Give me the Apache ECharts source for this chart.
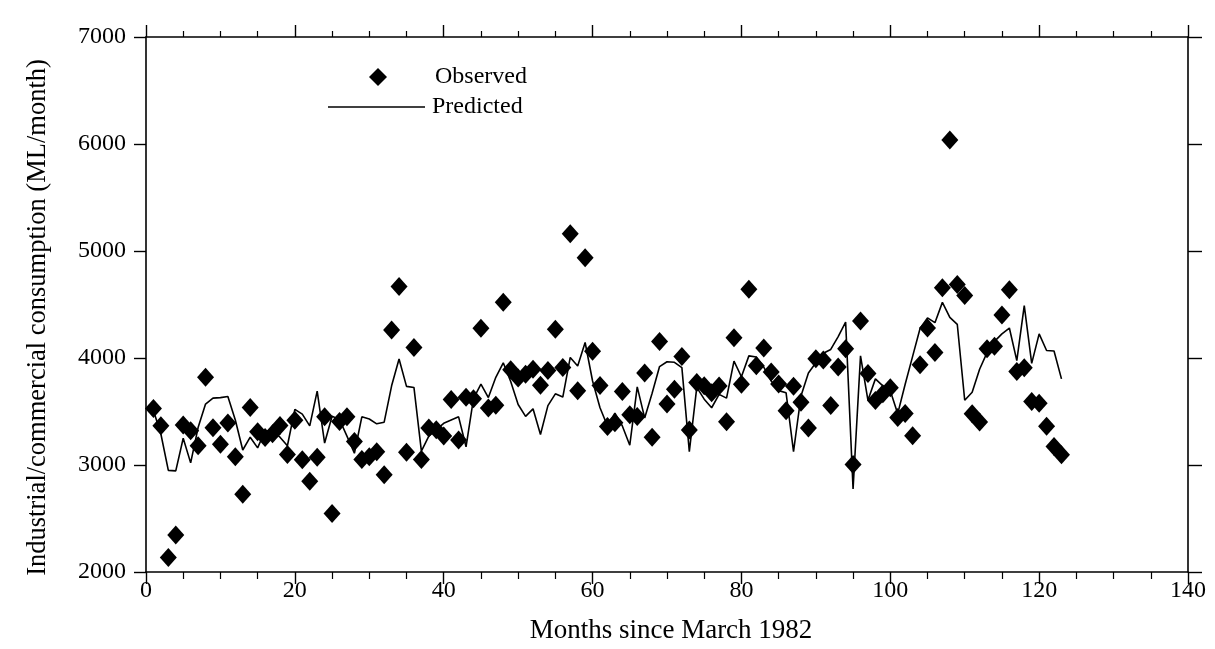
<!DOCTYPE html>
<html>
<head>
<meta charset="utf-8">
<title>Industrial/commercial consumption</title>
<script src="https://cdn.jsdelivr.net/npm/echarts@6/dist/echarts.min.js"></script>
<style>
  html, body { margin: 0; padding: 0; background: #ffffff; }
  #chart { width: 1215px; height: 649px; }
</style>
</head>
<body>
<div id="chart"></div>
<script>
// Months since March 1982
const months = [
  1, 2, 3, 4, 5, 6, 7, 8, 9, 10,
  11, 12, 13, 14, 15, 16, 17, 18, 19, 20,
  21, 22, 23, 24, 25, 26, 27, 28, 29, 30,
  31, 32, 33, 34, 35, 36, 37, 38, 39, 40,
  41, 42, 43, 44, 45, 46, 47, 48, 49, 50,
  51, 52, 53, 54, 55, 56, 57, 58, 59, 60,
  61, 62, 63, 64, 65, 66, 67, 68, 69, 70,
  71, 72, 73, 74, 75, 76, 77, 78, 79, 80,
  81, 82, 83, 84, 85, 86, 87, 88, 89, 90,
  91, 92, 93, 94, 95, 96, 97, 98, 99, 100,
  101, 102, 103, 104, 105, 106, 107, 108, 109, 110,
  111, 112, 113, 114, 115, 116, 117, 118, 119, 120,
  121, 122, 123
];

// Observed consumption (ML/month)
const observed = [
  3527, 3366, 2136, 2345, 3375, 3320, 3181, 3819, 3349, 3193,
  3393, 3077, 2726, 3537, 3310, 3257, 3293, 3369, 3099, 3419,
  3048, 2848, 3073, 3450, 2546, 3406, 3452, 3219, 3051, 3078,
  3123, 2908, 4262, 4669, 3118, 4098, 3051, 3346, 3330, 3272,
  3611, 3233, 3634, 3618, 4279, 3532, 3558, 4520, 3890, 3812,
  3848, 3895, 3746, 3884, 4269, 3912, 5161, 3694, 4937, 4062,
  3744, 3359, 3394, 3687, 3470, 3454, 3860, 3260, 4155, 3570,
  3708, 4013, 3327, 3770, 3741, 3675, 3739, 3405, 4190, 3754,
  4642, 3928, 4093, 3869, 3757, 3506, 3737, 3587, 3345, 3993,
  3982, 3556, 3916, 4086, 3005, 4346, 3856, 3603, 3667, 3721,
  3444, 3481, 3273, 3936, 4281, 4051, 4657, 6037, 4686, 4583,
  3480, 3402, 4087, 4110, 4402, 4639, 3875, 3908, 3594, 3578,
  3363, 3174, 3095
];

// Predicted consumption (ML/month)
const predicted = [
  3510, 3290, 2950, 2945, 3250, 3020, 3350, 3570, 3625, 3630,
  3640, 3420, 3140, 3260, 3160, 3320, 3320, 3260, 3180, 3520,
  3475, 3365, 3690, 3205, 3455, 3425, 3270, 3110, 3450, 3430,
  3385, 3400, 3740, 3990, 3735, 3725, 3130, 3270, 3330, 3390,
  3420, 3450, 3170, 3620, 3755, 3630, 3820, 3955, 3780, 3565,
  3455, 3525, 3285, 3555, 3665, 3635, 4005, 3925, 4145, 3785,
  3535, 3365, 3485, 3365, 3185, 3730, 3440, 3670, 3920, 3965,
  3960, 3910, 3125, 3725, 3615, 3535, 3660, 3625, 3970, 3825,
  4020, 4010, 3915, 3785, 3695, 3675, 3125, 3645, 3860, 3955,
  4045, 4080, 4200, 4335, 2775, 4020, 3605, 3805, 3740, 3695,
  3480, 3755, 4015, 4275, 4375, 4330, 4520, 4380, 4315, 3605,
  3680, 3895, 4050, 4155, 4225, 4280, 3975, 4490, 3950, 4225,
  4070, 4065, 3805
];

const serif = "'Liberation Serif', 'Times New Roman', 'DejaVu Serif', serif";
const ink = '#000000';

const observedPoints = months.map((m, i) => [m, observed[i]]);
const predictedPoints = months.map((m, i) => [m, predicted[i]]);

const chart = echarts.init(document.getElementById('chart'), null, { renderer: 'canvas' });

const axisLine = { show: true, onZero: false, lineStyle: { color: ink, width: 1.6 } };
const plainNumber = (v) => String(v);

chart.setOption({
  backgroundColor: '#ffffff',
  animation: false,
  grid: { left: 146, right: 27, top: 37, bottom: 72, containLabel: false },
  legend: [
    {
      data: [{ name: 'Observed', icon: 'diamond' }],
      left: 369, top: 65, padding: 0,
      itemWidth: 18, itemHeight: 18,
      textStyle: { fontFamily: serif, fontSize: 24, color: ink, padding: [0, 0, 0, 43] },
      selectedMode: false
    },
    {
      data: [{ name: 'Predicted', icon: 'rect' }],
      left: 328, top: 95, padding: 0,
      itemWidth: 97, itemHeight: 1.6,
      textStyle: { fontFamily: serif, fontSize: 24, color: ink, padding: [0, 0, 0, 2] },
      selectedMode: false
    }
  ],
  xAxis: [
    {
      type: 'value', position: 'bottom',
      min: 0, max: 140, interval: 20,
      axisLine: axisLine,
      axisTick: { show: true, inside: false, length: 12, lineStyle: { color: ink, width: 1.4 } },
      minorTick: { show: true, splitNumber: 4, length: 7, lineStyle: { color: ink, width: 1.2 } },
      splitLine: { show: false },
      axisLabel: { fontFamily: serif, fontSize: 24, color: ink, margin: 7, formatter: plainNumber },
      name: 'Months since March 1982',
      nameLocation: 'middle', nameGap: 45,
      nameTextStyle: { fontFamily: serif, fontSize: 27, color: ink, padding: [0, 0, 0, 8] }
    },
    {
      type: 'value', position: 'top',
      min: 0, max: 140, interval: 20,
      axisLine: axisLine,
      axisTick: { show: true, inside: false, length: 12, lineStyle: { color: ink, width: 1.4 } },
      minorTick: { show: true, splitNumber: 4, length: 6, lineStyle: { color: ink, width: 1.2 } },
      splitLine: { show: false },
      axisLabel: { show: false }
    }
  ],
  yAxis: [
    {
      type: 'value', position: 'left',
      min: 2000, max: 7000, interval: 1000,
      axisLine: axisLine,
      axisTick: { show: true, inside: false, length: 12, lineStyle: { color: ink, width: 1.4 } },
      splitLine: { show: false },
      axisLabel: { fontFamily: serif, fontSize: 24, color: ink, margin: 20, formatter: plainNumber },
      name: 'Industrial/commercial consumption (ML/month)',
      nameLocation: 'middle', nameGap: 94,
      nameTextStyle: { fontFamily: serif, fontSize: 26.5, color: ink, padding: [0, 26, 0, 0] }
    },
    {
      type: 'value', position: 'right',
      min: 2000, max: 7000, interval: 1000,
      axisLine: axisLine,
      axisTick: { show: true, inside: false, length: 14, lineStyle: { color: ink, width: 1.4 } },
      splitLine: { show: false },
      axisLabel: { show: false }
    }
  ],
  series: [
    {
      name: 'Predicted',
      type: 'line',
      xAxisIndex: 0, yAxisIndex: 0,
      data: predictedPoints,
      showSymbol: false,
      symbol: 'none',
      lineStyle: { color: ink, width: 1.6 },
      itemStyle: { color: ink },
      z: 2
    },
    {
      name: 'Observed',
      type: 'scatter',
      xAxisIndex: 0, yAxisIndex: 0,
      data: observedPoints,
      symbol: 'diamond',
      symbolSize: [17, 19],
      itemStyle: { color: ink, opacity: 1 },
      z: 3
    }
  ]
});
</script>
</body>
</html>
